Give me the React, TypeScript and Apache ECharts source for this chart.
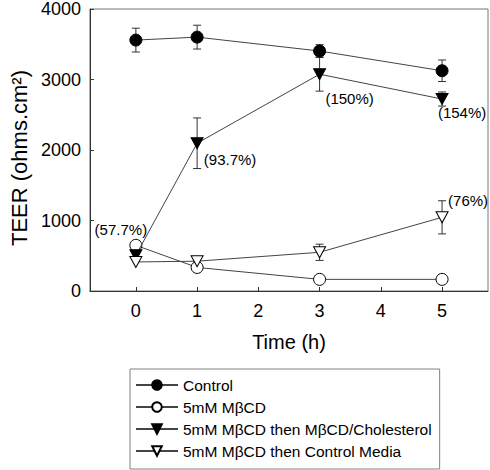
import { useEffect, useRef } from 'react';
import * as echarts from 'echarts';

// ---- data ----
const times = [0, 1, 3, 5];
const xTicks = [0, 1, 2, 3, 4, 5];
const seriesNames = [
  'Control',
  '5mM MβCD',
  '5mM MβCD then MβCD/Cholesterol',
  '5mM MβCD then Control Media',
];
const controlValues = [3559, 3601, 3404, 3124];
const controlErrors = [169, 169, 90, 153];
const mbcdValues = [648, 334, 165, 165];
const mbcdErrors = [0, 0, 0, 0];
const cholValues = [507, 2096, 3075, 2723];
const cholErrors = [0, 359, 240, 100];
const mediaValues = [412, 423, 549, 1045];
const mediaErrors = [0, 0, 115, 235];
const mbcdPercentLabels = ['(57.7%)', '', '', ''];
const cholPercentLabels = ['', '(93.7%)', '(150%)', '(154%)'];
const mediaPercentLabels = ['', '', '', '(76%)'];

// ---- styling ----
const FONT = '"Liberation Sans", Arial, Helvetica, sans-serif';
const LINE_COLOR = '#444';
const noOffsets: number[][] = [[0, 0], [0, 0], [0, 0], [0, 0]];
const mbcdLabelOffsets = [[-15, -16], [0, 0], [0, 0], [0, 0]];
const cholLabelOffsets = [[0, 0], [33, 16], [30, 24], [20, 13]];
const mediaLabelOffsets = [[0, 0], [0, 0], [0, 0], [26, -17]];

function lineSeries(
  name: string,
  values: number[],
  symbol: string,
  filled: boolean,
  labels: string[],
  offsets: number[][],
  z: number
) {
  const isTri = symbol === 'triangle';
  return {
    type: 'line',
    name,
    z,
    data: values.map((v, i) => {
      const item: any = { value: [times[i], v] };
      if (labels[i]) {
        item.label = {
          show: true,
          formatter: labels[i],
          position: 'inside',
          offset: offsets[i],
          color: '#000',
          fontSize: 15,
          fontFamily: FONT,
        };
      }
      return item;
    }),
    symbol,
    symbolSize: isTri ? [12, 11] : 12,
    symbolRotate: isTri ? 180 : 0,
    showAllSymbol: true,
    lineStyle: { color: LINE_COLOR, width: 1 },
    itemStyle: {
      color: filled ? '#000' : '#fff',
      borderColor: '#000',
      borderWidth: 1,
    },
    label: { show: false },
    emphasis: { disabled: true },
  };
}

function errorSeries(name: string, values: number[], errors: number[]) {
  const data = values
    .map((v, i) => [times[i], v - errors[i], v + errors[i], errors[i]])
    .filter((d) => d[3] > 0)
    .map((d) => [d[0], d[1], d[2]]);
  return {
    type: 'custom',
    name,
    z: 1,
    silent: true,
    data,
    encode: { x: 0, y: [1, 2] },
    renderItem: (_params: any, api: any) => {
      const x = api.value(0);
      const lo = api.coord([x, api.value(1)]);
      const hi = api.coord([x, api.value(2)]);
      const w = 4;
      const style = { stroke: '#333', lineWidth: 1 };
      return {
        type: 'group',
        children: [
          { type: 'line', shape: { x1: lo[0], y1: lo[1], x2: hi[0], y2: hi[1] }, style },
          { type: 'line', shape: { x1: hi[0] - w, y1: hi[1], x2: hi[0] + w, y2: hi[1] }, style },
          { type: 'line', shape: { x1: lo[0] - w, y1: lo[1], x2: lo[0] + w, y2: lo[1] }, style },
        ],
      };
    },
  };
}

const option: any = {
  animation: false,
  backgroundColor: '#fff',
  grid: {
    left: 82,
    right: 2,
    top: 7,
    bottom: 179,
    show: true,
    borderColor: '#777',
    borderWidth: 1,
  },
  xAxis: {
    type: 'value',
    min: -0.75,
    max: 5.75,
    name: 'Time (h)',
    nameLocation: 'middle',
    nameGap: 41,
    nameTextStyle: { fontSize: 20, color: '#000', fontFamily: FONT },
    axisLine: { show: true, onZero: false, lineStyle: { color: '#333', width: 1 } },
    axisTick: {
      show: true,
      inside: true,
      length: 4,
      customValues: xTicks,
      lineStyle: { color: '#333' },
    },
    axisLabel: {
      customValues: xTicks,
      fontSize: 18,
      margin: 11,
      color: '#000',
      fontFamily: FONT,
    },
    splitLine: { show: false },
  },
  yAxis: {
    type: 'value',
    min: 0,
    max: 4000,
    interval: 1000,
    name: 'TEER (ohms.cm²)',
    nameLocation: 'middle',
    nameGap: 58,
    nameTextStyle: {
      fontSize: 22,
      color: '#000',
      fontFamily: FONT,
      padding: [0, 16, 0, 0],
    },
    axisLine: { show: true, onZero: false, lineStyle: { color: '#333', width: 1 } },
    axisTick: { show: true, inside: true, length: 4, lineStyle: { color: '#333' } },
    axisLabel: {
      fontSize: 18,
      margin: 9,
      color: '#000',
      fontFamily: FONT,
      formatter: (v: number) => String(v),
    },
    splitLine: { show: false },
  },
  legend: {
    data: seriesNames,
    orient: 'vertical',
    left: 130,
    top: 369,
    itemWidth: 42,
    itemHeight: 12,
    itemGap: 6,
    padding: [8, 8, 10, 5],
    borderColor: '#808080',
    borderWidth: 1,
    selectedMode: false,
    textStyle: { fontSize: 15.5, lineHeight: 15.5, color: '#000', fontFamily: FONT },
  },
  series: [
    errorSeries('err-control', controlValues, controlErrors),
    errorSeries('err-mbcd', mbcdValues, mbcdErrors),
    errorSeries('err-chol', cholValues, cholErrors),
    errorSeries('err-media', mediaValues, mediaErrors),
    lineSeries(seriesNames[0], controlValues, 'circle', true, ['', '', '', ''], noOffsets, 2),
    lineSeries(seriesNames[1], mbcdValues, 'circle', false, mbcdPercentLabels, mbcdLabelOffsets, 3),
    lineSeries(seriesNames[2], cholValues, 'triangle', true, cholPercentLabels, cholLabelOffsets, 4),
    lineSeries(seriesNames[3], mediaValues, 'triangle', false, mediaPercentLabels, mediaLabelOffsets, 5),
  ],
};

export default function App() {
  const ref = useRef<HTMLDivElement>(null);
  useEffect(() => {
    if (!ref.current) return;
    const chart = echarts.init(ref.current, null, { renderer: 'svg' });
    chart.setOption(option);
    return () => chart.dispose();
  }, []);
  return (
    <div
      ref={ref}
      style={{ position: 'fixed', left: 0, top: 0, width: 490, height: 470, background: '#fff' }}
    />
  );
}
